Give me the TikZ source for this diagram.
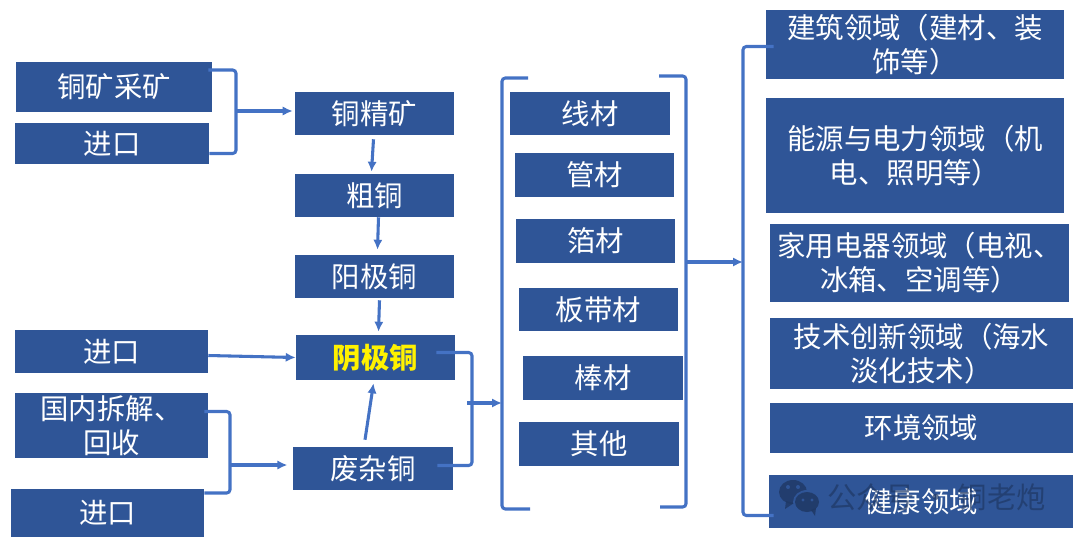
\documentclass[tikz,border=0pt]{standalone}
\usepackage{fontspec}
\setmainfont{Noto Sans CJK SC}
\usepackage{xcolor}
\usetikzlibrary{arrows.meta, positioning}
\definecolor{boxblue}{HTML}{2F5597}
\definecolor{linkblue}{HTML}{4472C4}
\definecolor{markink}{HTML}{1F3864}
\begin{document}
\begin{tikzpicture}[
		x=0.75pt,
		y=-0.75pt,
		font=\fontsize{21.3}{25.5}\selectfont,
		bluebox/.style={fill=boxblue, text=white, inner sep=0pt, align=center},
		flow/.style={-{Latex[length=7.5pt,width=7pt]}, line width=2.3pt, draw=linkblue},
		bracket/.style={line width=2.3pt, draw=linkblue, rounded corners=2.5pt}
		]
		\useasboundingbox (0,0) rectangle (1080,540);
		
		% Boxes: name/centre x/centre y/width/height/text
		\foreach \nm/\cx/\cy/\bw/\bh/\txt in {
			mine/114/87/196/50/{铜矿采矿},
			importa/112/143.5/194/41/{进口},
			concentrate/374.5/113.5/159/43/{铜精矿},
			blister/374.5/195.5/159/43/{粗铜},
			anode/374.5/276.5/159/43/{阳极铜},
			importb/111.5/351.5/193/43/{进口},
			recycle/111.5/425.5/193/65/{国内拆解、\\回收},
			importc/107.5/513/193/48/{进口},
			scrap/373/468.5/160/43/{废杂铜},
			wire/590/113.5/160/43/{线材},
			tube/594.5/175/159/44/{管材},
			foil/595.5/241/159/44/{箔材},
			strip/598.5/309.5/159/43/{板带材},
			rod/603/378/160/44/{棒材},
			other/599/444/160/44/{其他},
			building/915/44.5/298/69/{建筑领域（建材、装\\饰等）},
			energy/915/155.5/298/115/{能源与电力领域（机\\电、照明等）},
			appliance/919.5/263/299/78/{家用电器领域（电视、\\冰箱、空调等）},
			innovation/921.5/353.5/303/71/{技术创新领域（海水\\淡化技术）},
			environment/921.5/428/303/50/{环境领域},
			health/921/501.5/304/53/{健康领域}%
		}{
			\node[bluebox, minimum width=\bw*0.75pt, minimum height=\bh*0.75pt] (\nm) at (\cx,\cy) {\txt};
		}
		
		% Cathode copper stands out
		\node[bluebox, minimum width=119.25pt, minimum height=33.75pt, text=yellow, font=\fontsize{21.3}{25.5}\selectfont\bfseries] (cathode) at (375.5,357.5) {阴极铜};
		
		% Junction points
		\coordinate (minejoin) at (236,111);
		\coordinate (recyclejoin) at (230,465);
		\coordinate (metaljoin) at (472,403);
		\coordinate (metalout) at (467,403);
		\coordinate (leftmid) at (502,403);
		\coordinate (lefttop) at (528,78);
		\coordinate (leftbot) at (530,509);
		\coordinate (rightmid) at (686,262);
		\coordinate (righttop) at (659,76);
		\coordinate (rightbot) at (660,507);
		\coordinate (sectormid) at (743,262);
		
		% Sources into concentrate
		\draw[bracket] ([shift={(-4,-17)}]mine.east) -| (minejoin) |- ([shift={(0,10)}]importa.east);
		\draw[flow] (minejoin) -- ([xshift=-1.5pt]concentrate.west |- minejoin);
		
		% Refining chain
		\draw[flow] ([shift={(-1,4)}]concentrate.south) -- ([shift={(-3,-2)}]blister.north);
		\draw[flow] ([shift={(4,0)}]blister.south) -- ([shift={(3,-5)}]anode.north);
		\draw[flow] ([shift={(5,2)}]anode.south) -- ([shift={(3,-3)}]cathode.north);
		\draw[flow] ([shift={(0,4)}]importb.east) -- (cathode.west);
		\draw[flow] ([shift={(-8,-7)}]scrap.north) -- ([shift={(-2,3)}]cathode.south);
		
		% Scrap sources
		\draw[bracket] ([shift={(-4,-14)}]recycle.east) -| (recyclejoin) |- ([shift={(0,-20)}]importc.east);
		\draw[flow] (recyclejoin) -- ([xshift=-4pt]scrap.west |- recyclejoin);
		
		% Into the product group
		\draw[bracket] ([shift={(-19,-5)}]cathode.east) -| (metaljoin) |- ([shift={(-16,-3)}]scrap.east);
		\draw[flow] (metalout) -- (leftmid);
		
		% Product group
		\draw[bracket] (lefttop) -| (leftmid) |- (leftbot);
		\draw[bracket] (righttop) -| (rightmid) |- (rightbot);
		\draw[flow] (rightmid) -- (sectormid);
		
		% Application sectors
		\draw[bracket] ([shift={(8,2)}]building.west) -| (sectormid) |- ([shift={(5,14)}]health.west);
		
		% Watermark
		\fill[markink, opacity=0.8] (793,492) ellipse (14 and 12);
		\fill[markink, opacity=0.8] (786,501) -- (785,509) -- (794,503) -- cycle;
		\fill[boxblue] (807,502) ellipse (14 and 12);
		\fill[markink, opacity=0.85] (807,502) ellipse (12 and 10);
		\fill[markink, opacity=0.85] (811,510) -- (815,516) -- (816,508) -- cycle;
		\foreach \ex/\ey in {788/487, 798/487}{
			\fill[boxblue] (\ex,\ey) circle (2);
		}
		\foreach \ex/\ey in {803/500, 812/500}{
			\fill[boxblue] (\ex,\ey) circle (1.6);
		}
		\node[anchor=west, inner sep=0pt, text=markink, text opacity=0.7, font=\fontsize{22}{25}\selectfont] (mark) at (827,497) {公众号 · 铜老炮};
		
	\end{tikzpicture}
\end{document}
